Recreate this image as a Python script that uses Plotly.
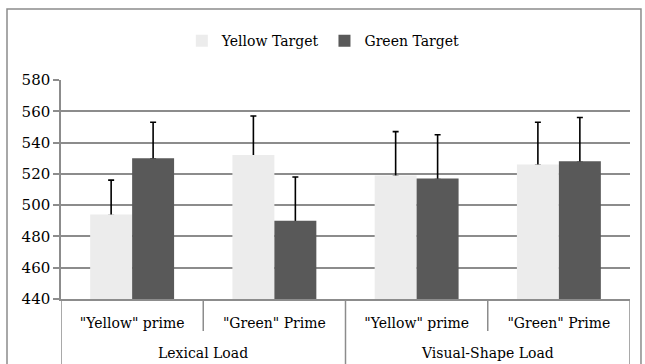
import plotly.graph_objects as go

# Reaction times (ms) by load type and prime
load_types = ["Lexical Load", "Lexical Load", "Visual-Shape Load", "Visual-Shape Load"]
primes = ['"Yellow" prime', '"Green" Prime', '"Yellow" prime', '"Green" Prime']
yellow_target = [494, 532, 519, 526]
yellow_err = [22, 25, 28, 27]
green_target = [530, 490, 517, 528]
green_err = [23, 28, 28, 28]
y_ticks = [440, 460, 480, 500, 520, 540, 560, 580]

FONT = "DejaVu Serif"
GRID = "#8c8c8c"
YELLOW = "#ececec"
GREEN = "#595959"

xpos = list(range(len(primes)))

fig = go.Figure()


def add_series(name, values, err, color, group):
    # upward-only error bars, drawn first so the bars cover their lower caps
    fig.add_trace(go.Bar(
        x=xpos, y=values, offsetgroup=group, showlegend=False, hoverinfo="skip",
        marker=dict(color="rgba(0,0,0,0)", line=dict(width=0)),
        error_y=dict(type="data", array=err, arrayminus=[0.6] * len(err),
                     symmetric=False, color="black", thickness=1.6, width=3),
    ))
    fig.add_trace(go.Bar(
        name=name, x=xpos, y=values, offsetgroup=group,
        marker=dict(color=color, line=dict(width=0)),
    ))


add_series("Yellow Target", yellow_target, yellow_err, YELLOW, "yellow")
add_series("Green Target", green_target, green_err, GREEN, "green")

# group labels and category dividers below the axis
shapes = [dict(type="rect", xref="paper", yref="paper", x0=-0.0949, x1=1.0193,
               y0=-0.6, y1=1.324, line=dict(color=GRID, width=1.5),
               fillcolor="rgba(0,0,0,0)", layer="below")]
annotations = []
groups = []
for i, g in enumerate(load_types):
    if not groups or groups[-1][0] != g:
        groups.append([g, i, i])
    else:
        groups[-1][2] = i
for g, first, last in groups:
    annotations.append(dict(text=g, x=(first + last) / 2, xref="x", y=-0.245, yref="paper",
                            showarrow=False, yanchor="middle", xanchor="center",
                            font=dict(family=FONT, size=14, color="black")))
    for i in range(first, last):
        shapes.append(dict(type="line", xref="x", yref="paper", x0=i + 0.5, x1=i + 0.5,
                           y0=0, y1=-0.146, line=dict(color=GRID, width=1.5)))
    shapes.append(dict(type="line", xref="x", yref="paper", x0=first - 0.5, x1=first - 0.5,
                       y0=0, y1=-0.32, line=dict(color=GRID, width=1.5)))
shapes.append(dict(type="line", xref="x", yref="paper", x0=len(primes) - 0.5,
                   x1=len(primes) - 0.5, y0=0, y1=-0.32, line=dict(color=GRID, width=1.5)))

fig.update_layout(
    width=645, height=364,
    margin=dict(l=61, r=15, t=80, b=65),
    paper_bgcolor="white", plot_bgcolor="white",
    barmode="group", bargap=0.41, bargroupgap=0,
    font=dict(family=FONT, size=14, color="black"),
    legend=dict(orientation="h", x=0.461, xanchor="center", y=0.887, yanchor="middle",
                yref="container", font=dict(size=14), itemwidth=30,
                traceorder="normal"),
    yaxis=dict(range=[440, 580], tickvals=y_ticks, showgrid=True, gridcolor=GRID,
               gridwidth=1.5, showline=True, linecolor=GRID, linewidth=1.5,
               ticks="outside", ticklen=6, tickcolor=GRID, tickwidth=1.5,
               zeroline=False, tickfont=dict(size=15)),
    xaxis=dict(range=[-0.5, len(primes) - 0.5], tickvals=xpos, ticktext=primes,
               showline=True, linecolor=GRID, linewidth=1.5, ticks="", showgrid=False,
               zeroline=False, tickfont=dict(size=14), ticklabelstandoff=10),
    shapes=shapes,
    annotations=annotations,
)

fig.write_html("out.html")
